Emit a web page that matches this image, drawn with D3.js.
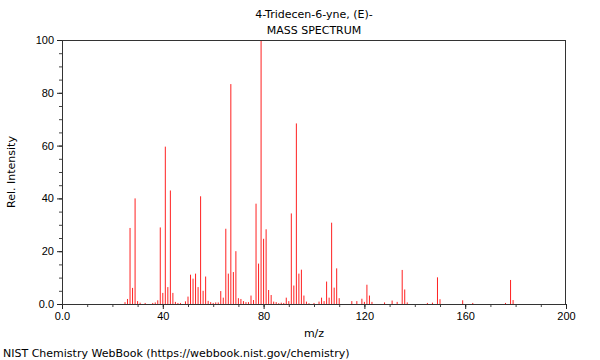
<!DOCTYPE html>
<html>
<head>
<meta charset="utf-8">
<script src="https://cdn.jsdelivr.net/npm/d3@7/dist/d3.min.js"></script>
<style>
  body { margin: 0; background: #fff; }
  svg { display: block; font-family: "DejaVu Sans", sans-serif; }
  .tick text { font-size: 11px; fill: #000; }
</style>
</head>
<body>
<div id="chart"></div>
<script>
  // пики масс-спектра: m/z и относительная интенсивность
  const mzValues = [
    25, 26, 27, 28, 29, 30, 31, 33, 36, 37, 38, 39, 40, 41, 42, 43, 44, 45, 46, 47,
    49, 50, 51, 52, 53, 54, 55, 56, 57, 58, 59, 60, 61, 62, 63, 64, 65, 66, 67, 68,
    69, 70, 71, 72, 73, 74, 75, 76, 77, 78, 79, 80, 81, 82, 83, 84, 85, 86, 87, 88,
    89, 90, 91, 92, 93, 94, 95, 96, 97, 98, 100, 102, 103, 104, 105, 106, 107, 108, 109, 110,
    115, 117, 119, 120, 121, 122, 123, 128, 131, 133, 135, 136, 137, 145, 147, 149, 150, 159, 163, 176,
    178, 179
  ];
  const intensities = [
    0.7, 1.9, 28.8, 6.1, 40.0, 1.1, 0.5, 0.4, 0.4, 0.6, 1.4, 29.0, 4.2, 59.6, 6.4, 43.0, 4.2, 0.8, 0.4, 0.4,
    1.0, 2.8, 11.1, 9.6, 11.5, 6.4, 40.8, 5.0, 10.4, 1.2, 0.7, 0.4, 0.6, 0.6, 4.9, 2.4, 28.5, 11.5, 83.3, 12.1,
    20.0, 2.2, 1.9, 1.1, 0.7, 0.7, 3.2, 1.5, 38.0, 15.3, 100, 24.7, 28.3, 5.3, 3.4, 0.9, 0.7, 0.3, 0.5, 0.4,
    2.4, 1.1, 34.3, 7.0, 68.4, 11.5, 13.0, 3.2, 0.9, 0.3, 0.4, 0.9, 2.4, 1.1, 8.5, 2.4, 30.8, 6.2, 13.5, 2.2,
    1.1, 1.1, 2.0, 0.8, 7.3, 3.2, 0.8, 0.6, 1.3, 0.8, 12.9, 5.5, 0.6, 0.4, 0.5, 10.1, 1.8, 1.4, 0.4, 0.4,
    9.1, 1.5
  ];

  const xMajorTicks = [0, 40, 80, 120, 160, 200];
  const yMajorTicks = [0, 20, 40, 60, 80, 100];

  const W = 600, H = 360;
  const margin = { top: 40, right: 34, bottom: 56, left: 62 };

  const svg = d3.select('#chart').append('svg')
    .attr('width', W).attr('height', H);

  const x = d3.scaleLinear().domain([0, 200]).range([margin.left, W - margin.right]);
  const y = d3.scaleLinear().domain([0, 100]).range([H - margin.bottom, margin.top]);

  const fmt = d => d === 0 ? '0.0' : String(d);

  // малые деления
  svg.append('g')
    .attr('transform', `translate(0,${H - margin.bottom})`)
    .call(d3.axisBottom(x).tickValues(d3.range(0, 201, 10)).tickSize(3).tickFormat(''))
    .call(g => g.select('.domain').remove())
    .selectAll('line').attr('stroke', '#444');
  svg.append('g')
    .attr('transform', `translate(${margin.left},0)`)
    .call(d3.axisLeft(y).tickValues(d3.range(0, 101, 5)).tickSize(3).tickFormat(''))
    .call(g => g.select('.domain').remove())
    .selectAll('line').attr('stroke', '#444');

  // основные деления
  const xAxis = svg.append('g')
    .attr('transform', `translate(0,${H - margin.bottom})`)
    .call(d3.axisBottom(x).tickValues(xMajorTicks).tickSize(5).tickPadding(3).tickFormat(fmt));
  xAxis.select('.domain').remove();
  xAxis.selectAll('line').attr('stroke', '#222');

  const yAxis = svg.append('g')
    .attr('transform', `translate(${margin.left},0)`)
    .call(d3.axisLeft(y).tickValues(yMajorTicks).tickSize(5).tickPadding(3).tickFormat(fmt));
  yAxis.select('.domain').remove();
  yAxis.selectAll('line').attr('stroke', '#222');

  // пики
  const peaks = mzValues.map((m, i) => ({ mz: m, v: intensities[i] }));
  svg.append('g')
    .selectAll('line')
    .data(peaks)
    .join('line')
    .attr('x1', d => x(d.mz)).attr('x2', d => x(d.mz))
    .attr('y1', y(0)).attr('y2', d => y(d.v))
    .attr('stroke', '#ff2020')
    .attr('stroke-width', 1);

  // рамка
  svg.append('rect')
    .attr('x', margin.left + 0.5).attr('y', margin.top + 0.5)
    .attr('width', W - margin.left - margin.right - 1)
    .attr('height', H - margin.top - margin.bottom)
    .attr('fill', 'none').attr('stroke', '#333');

  const cx = (margin.left + W - margin.right) / 2;
  svg.append('text').attr('x', cx).attr('y', 18).attr('text-anchor', 'middle')
    .attr('font-size', 11).text('4-Tridecen-6-yne, (E)-');
  svg.append('text').attr('x', cx).attr('y', 34).attr('text-anchor', 'middle')
    .attr('font-size', 11).text('MASS SPECTRUM');
  svg.append('text').attr('x', cx).attr('y', 337).attr('text-anchor', 'middle')
    .attr('font-size', 11).text('m/z');
  svg.append('text')
    .attr('transform', `translate(15,${(margin.top + H - margin.bottom) / 2}) rotate(-90)`)
    .attr('text-anchor', 'middle').attr('font-size', 11).text('Rel. Intensity');
  svg.append('text').attr('x', 3).attr('y', 357)
    .attr('font-size', 11).text('NIST Chemistry WebBook (https://webbook.nist.gov/chemistry)');
</script>
</body>
</html>
